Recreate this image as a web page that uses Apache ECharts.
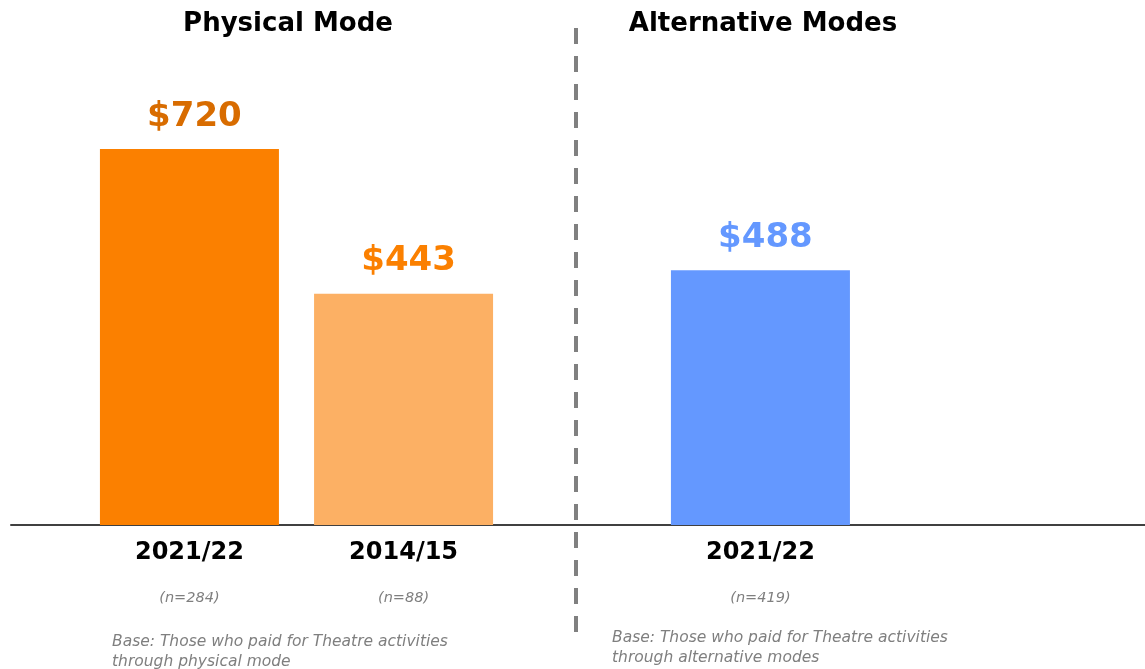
<!DOCTYPE html>
<html>
<head>
<meta charset="utf-8">
<script src="https://cdn.jsdelivr.net/npm/echarts@6/dist/echarts.min.js"></script>
<style>
  html, body { margin: 0; padding: 0; background: #fff; }
  #chart { width: 1145px; height: 669px; }
</style>
</head>
<body>
<div id="chart"></div>
<script>
// chart data
const years = ['2021/22', '2014/15', '2021/22'];
const bases = ['(n=284)', '(n=88)', '(n=419)'];
const spend = [720, 443, 488];
const barColors = ['#FB8000', '#FCB064', '#6498FF'];
const labelColors = ['#D86C00', '#FB8000', '#6498FF'];
const groupTitles = ['Physical Mode', 'Alternative Modes'];
const baseNotes = [
  'Base: Those who paid for Theatre activities\nthrough physical mode',
  'Base: Those who paid for Theatre activities\nthrough alternative modes'
];

// bars sit in a 16-slot band axis, with empty slots as spacing
const slotCount = 16;
const barSlots = [2, 5, 10];

const font = '"DejaVu Sans", "Noto Sans", sans-serif';

let categories = [];
let values = [];
for (let i = 0; i < slotCount; i++) {
  let k = barSlots.indexOf(i);
  if (k >= 0) {
    categories.push(years[k] + '|' + bases[k]);
    values.push({
      value: spend[k],
      itemStyle: { color: barColors[k] },
      label: { color: labelColors[k] }
    });
  } else {
    categories.push('');
    values.push(null);
  }
}

let chart = echarts.init(document.getElementById('chart'));
chart.setOption({
  animation: false,
  title: [
    {
      text: groupTitles[0], left: 283, top: 6, textAlign: 'center',
      textStyle: { fontFamily: font, fontWeight: 'bold', fontSize: 26, color: '#000' }
    },
    {
      text: groupTitles[1], left: 758, top: 6, textAlign: 'center',
      textStyle: { fontFamily: font, fontWeight: 'bold', fontSize: 26, color: '#000' }
    }
  ],
  grid: {
    left: 11, width: 1142, top: 149, bottom: 144,
    containLabel: false, outerBoundsMode: 'none'
  },
  xAxis: {
    type: 'category',
    data: categories,
    axisLine: { show: true, lineStyle: { color: '#404040', width: 2 } },
    axisTick: { show: false },
    axisLabel: {
      interval: 0,
      margin: 10,
      formatter: function (v) {
        if (!v) return '';
        let p = v.split('|');
        return '{a|' + p[0] + '}\n{b|' + p[1] + '}';
      },
      rich: {
        a: { fontFamily: font, fontWeight: 'bold', fontSize: 24, color: '#000', lineHeight: 36 },
        b: { fontFamily: font, fontStyle: 'italic', fontSize: 14.5, color: '#7f7f7f', lineHeight: 54 }
      }
    }
  },
  yAxis: {
    type: 'value',
    min: 0,
    max: 720,
    show: false,
    splitLine: { show: false }
  },
  series: [{
    type: 'bar',
    data: values,
    barWidth: 179,
    label: {
      show: true,
      position: 'top',
      distance: 15,
      offset: [5, 0],
      fontFamily: font,
      fontWeight: 'bold',
      fontSize: 34,
      formatter: function (p) { return '$' + p.value; }
    }
  }],
  graphic: [
    {
      type: 'line',
      shape: { x1: 576, y1: 28, x2: 576, y2: 634 },
      style: { stroke: '#808080', lineWidth: 4, lineDash: [16, 12] }
    },
    {
      type: 'text', left: 112, top: 632,
      style: { text: baseNotes[0], font: 'italic 15.5px ' + font, fill: '#7f7f7f', lineHeight: 20 }
    },
    {
      type: 'text', left: 612, top: 628,
      style: { text: baseNotes[1], font: 'italic 15.5px ' + font, fill: '#7f7f7f', lineHeight: 20 }
    }
  ]
});
</script>
</body>
</html>
